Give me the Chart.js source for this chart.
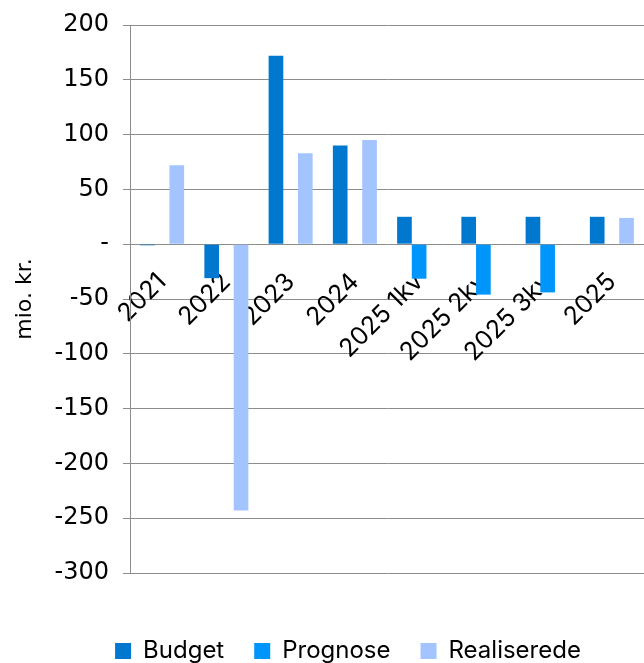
<!DOCTYPE html>
<html>
<head>
<meta charset="utf-8">
<script src="https://cdn.jsdelivr.net/npm/chart.js@4/dist/chart.umd.min.js"></script>
<style>
  html, body { margin: 0; padding: 0; background: #fff; }
  #wrap { width: 644px; height: 663px; }
</style>
</head>
<body>
<div id="wrap"><canvas id="chart"></canvas></div>
<script>
// kategorier og serier (mio. kr.)
var categories = ["2021", "2022", "2023", "2024", "2025 1kv", "2025 2kv", "2025 3kv", "2025"];
var budget = [-1, -31, 172, 90, 25, 25, 25, 25];
var prognose = [null, null, null, null, -31.5, -46, -44, null];
var realiserede = [72, -243, 83, 95, null, null, null, 24];
var yTicks = [200, 150, 100, 50, 0, -50, -100, -150, -200, -250, -300];

var gridGray = '#8c8c8c';

// flytter legenden lidt til hoejre og ned, som i originalen
var legendShift = {
    id: 'legendShift',
    afterLayout: function (chart) {
        var lg = chart.legend;
        lg.left += 26; lg.right += 26;
        lg.top += 36; lg.bottom += 36;
    }
};

var ctx = document.getElementById('chart');
new Chart(ctx, {
    type: 'bar',
    data: {
        labels: categories,
        datasets: [
            { label: 'Budget', data: budget, backgroundColor: '#0078D0' },
            { label: 'Prognose', data: prognose, backgroundColor: '#0095FA' },
            { label: 'Realiserede', data: realiserede, backgroundColor: '#A3C4FF' }
        ]
    },
    options: {
        responsive: true,
        maintainAspectRatio: false,
        animation: false,
        categoryPercentage: 0.685,
        barPercentage: 1,
        layout: { padding: { top: 25, left: 0, right: 0, bottom: 26 } },
        plugins: {
            tooltip: { enabled: false },
            legend: {
                position: 'bottom',
                labels: {
                    boxWidth: 16,
                    boxHeight: 16,
                    padding: 30,
                    color: '#000',
                    font: { family: 'Inter', size: 24 }
                }
            }
        },
        scales: {
            x: {
                position: { y: 0 },
                grid: { display: false, drawTicks: false },
                border: { display: false },
                afterFit: function (scale) { scale.paddingLeft = 0; scale.paddingRight = 0; },
                ticks: {
                    autoSkip: false,
                    maxRotation: 45,
                    minRotation: 45,
                    padding: 23,
                    color: '#000',
                    font: { family: 'Inter', size: 25 }
                }
            },
            y: {
                min: -300,
                max: 200,
                afterBuildTicks: function (scale) {
                    scale.ticks = yTicks.map(function (v) { return { value: v }; });
                },
                afterFit: function (scale) {
                    scale.width = 130;
                    scale.paddingTop = 0;
                    scale.paddingBottom = 0;
                },
                grid: { color: gridGray, tickLength: 7, lineWidth: 1 },
                border: { color: gridGray },
                ticks: {
                    padding: 14,
                    color: '#000',
                    font: { family: 'DejaVu Sans', size: 24 },
                    callback: function (v) { return v === 0 ? '-' : v; }
                },
                title: {
                    display: true,
                    text: 'mio. kr.',
                    color: '#000',
                    padding: { top: 12, bottom: 0 },
                    font: { family: 'DejaVu Sans', size: 22 }
                }
            }
        }
    },
    plugins: [legendShift]
});
</script>
</body>
</html>
